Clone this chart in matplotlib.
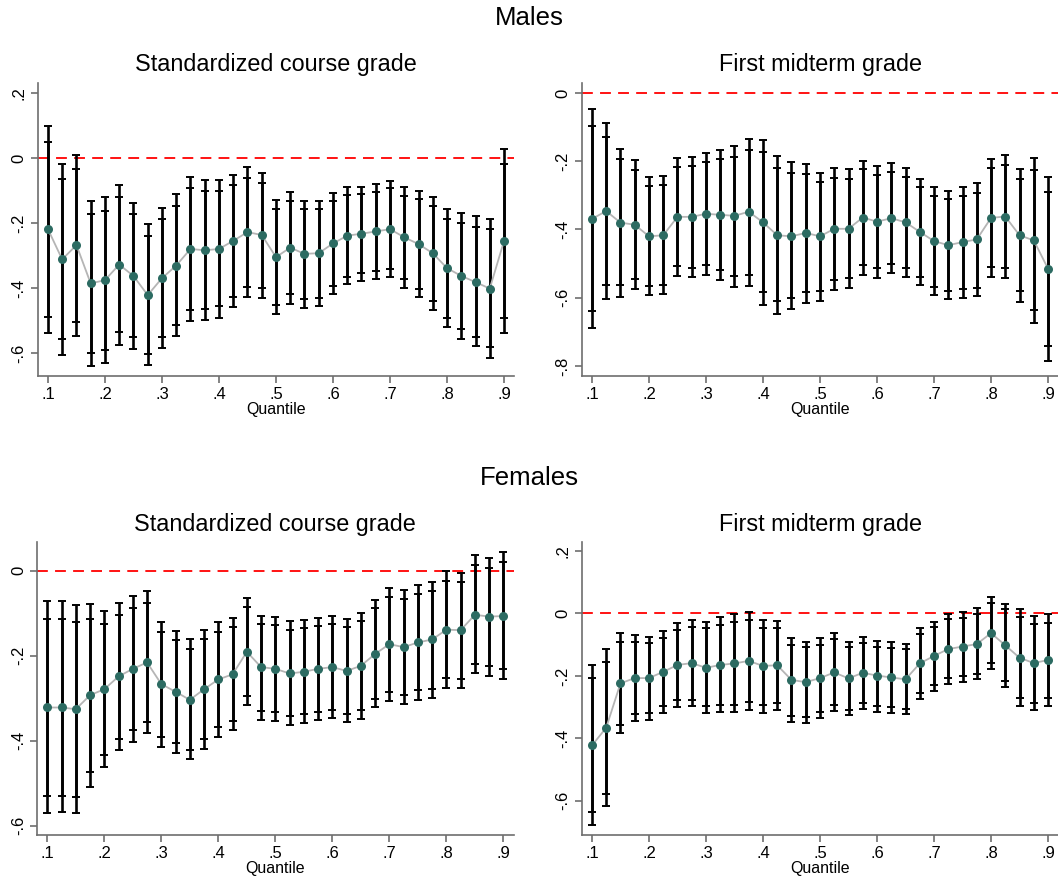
import matplotlib.pyplot as plt
import numpy as np

plt.rcParams['font.family'] = ['Liberation Sans', 'DejaVu Sans']

# quantiles .100, .125, ... .900
quantiles = [0.1 + 0.025 * i for i in range(33)]

# ---------------- Males: standardized course grade
m_course_est = [-0.218, -0.311, -0.267, -0.385, -0.375, -0.327, -0.362, -0.421, -0.369, -0.330, -0.279,
                -0.283, -0.279, -0.254, -0.227, -0.236, -0.304, -0.275, -0.294, -0.292, -0.262, -0.238,
                -0.232, -0.225, -0.218, -0.243, -0.264, -0.292, -0.338, -0.362, -0.381, -0.401, -0.254]
m_course_hi95 = [0.100, -0.017, 0.011, -0.131, -0.120, -0.082, -0.136, -0.203, -0.153, -0.111, -0.056,
                 -0.067, -0.067, -0.050, -0.028, -0.046, -0.128, -0.105, -0.131, -0.131, -0.106, -0.089,
                 -0.087, -0.079, -0.069, -0.089, -0.099, -0.119, -0.157, -0.167, -0.179, -0.187, 0.028]
m_course_hi90 = [0.051, -0.064, -0.032, -0.171, -0.161, -0.120, -0.172, -0.238, -0.188, -0.146, -0.091,
                 -0.102, -0.102, -0.083, -0.059, -0.075, -0.156, -0.131, -0.156, -0.156, -0.131, -0.113,
                 -0.110, -0.103, -0.092, -0.116, -0.125, -0.146, -0.186, -0.198, -0.211, -0.219, -0.017]
m_course_lo90 = [-0.487, -0.557, -0.503, -0.600, -0.590, -0.535, -0.549, -0.602, -0.549, -0.513, -0.467,
                 -0.464, -0.456, -0.426, -0.395, -0.398, -0.451, -0.419, -0.434, -0.429, -0.393, -0.364,
                 -0.354, -0.347, -0.342, -0.372, -0.401, -0.438, -0.490, -0.524, -0.549, -0.582, -0.492]
m_course_lo95 = [-0.538, -0.604, -0.547, -0.639, -0.631, -0.575, -0.586, -0.635, -0.584, -0.547, -0.501,
                 -0.497, -0.490, -0.459, -0.428, -0.429, -0.480, -0.447, -0.462, -0.455, -0.417, -0.388,
                 -0.377, -0.371, -0.365, -0.398, -0.428, -0.466, -0.520, -0.555, -0.579, -0.615, -0.538]

# ---------------- Males: first midterm grade
m_mid_est = [-0.369, -0.346, -0.380, -0.386, -0.420, -0.417, -0.363, -0.363, -0.354, -0.357, -0.360,
             -0.348, -0.379, -0.417, -0.420, -0.410, -0.420, -0.398, -0.398, -0.365, -0.377, -0.367,
             -0.379, -0.407, -0.434, -0.446, -0.437, -0.429, -0.366, -0.362, -0.417, -0.432, -0.515]
m_mid_hi95 = [-0.047, -0.088, -0.164, -0.197, -0.246, -0.243, -0.191, -0.188, -0.176, -0.166, -0.156,
              -0.135, -0.137, -0.185, -0.203, -0.207, -0.234, -0.220, -0.223, -0.199, -0.215, -0.206,
              -0.220, -0.251, -0.275, -0.287, -0.276, -0.265, -0.194, -0.183, -0.222, -0.191, -0.246]
m_mid_hi90 = [-0.098, -0.130, -0.195, -0.226, -0.273, -0.269, -0.218, -0.215, -0.203, -0.195, -0.187,
              -0.166, -0.172, -0.220, -0.236, -0.237, -0.261, -0.248, -0.251, -0.224, -0.240, -0.231,
              -0.246, -0.276, -0.301, -0.312, -0.301, -0.292, -0.221, -0.212, -0.253, -0.227, -0.290]
m_mid_lo90 = [-0.639, -0.564, -0.564, -0.546, -0.566, -0.564, -0.507, -0.512, -0.505, -0.519, -0.537,
              -0.532, -0.583, -0.609, -0.601, -0.582, -0.579, -0.548, -0.542, -0.505, -0.514, -0.502,
              -0.513, -0.539, -0.568, -0.580, -0.575, -0.570, -0.510, -0.513, -0.581, -0.635, -0.741]
m_mid_lo95 = [-0.688, -0.605, -0.597, -0.574, -0.592, -0.590, -0.535, -0.539, -0.534, -0.549, -0.569,
              -0.566, -0.622, -0.647, -0.634, -0.615, -0.608, -0.576, -0.570, -0.532, -0.541, -0.528,
              -0.539, -0.564, -0.593, -0.605, -0.601, -0.596, -0.539, -0.542, -0.613, -0.674, -0.784]

# ---------------- Females: standardized course grade
f_course_est = [-0.322, -0.322, -0.326, -0.293, -0.279, -0.249, -0.231, -0.216, -0.267, -0.285, -0.304,
                -0.279, -0.256, -0.244, -0.191, -0.227, -0.231, -0.242, -0.238, -0.231, -0.227, -0.236,
                -0.224, -0.196, -0.173, -0.180, -0.169, -0.162, -0.139, -0.140, -0.104, -0.108, -0.107]
f_course_hi95 = [-0.072, -0.072, -0.082, -0.078, -0.094, -0.076, -0.060, -0.049, -0.120, -0.141, -0.162,
                 -0.140, -0.122, -0.112, -0.064, -0.106, -0.110, -0.119, -0.116, -0.111, -0.107, -0.114,
                 -0.100, -0.069, -0.040, -0.045, -0.034, -0.026, -0.002, -0.005, 0.036, 0.029, 0.043]
f_course_hi90 = [-0.113, -0.113, -0.120, -0.113, -0.125, -0.104, -0.087, -0.076, -0.144, -0.163, -0.184,
                 -0.162, -0.144, -0.133, -0.085, -0.125, -0.129, -0.139, -0.136, -0.130, -0.125, -0.133,
                 -0.118, -0.089, -0.061, -0.067, -0.055, -0.047, -0.024, -0.027, 0.014, 0.007, 0.020]
f_course_lo90 = [-0.530, -0.530, -0.532, -0.473, -0.434, -0.395, -0.375, -0.356, -0.391, -0.406, -0.422,
                 -0.396, -0.369, -0.354, -0.296, -0.331, -0.333, -0.343, -0.337, -0.333, -0.328, -0.337,
                 -0.329, -0.303, -0.286, -0.293, -0.282, -0.278, -0.253, -0.254, -0.220, -0.225, -0.232]
f_course_lo95 = [-0.571, -0.569, -0.571, -0.508, -0.463, -0.422, -0.402, -0.383, -0.414, -0.430, -0.444,
                 -0.419, -0.391, -0.375, -0.317, -0.351, -0.353, -0.362, -0.358, -0.351, -0.347, -0.357,
                 -0.349, -0.322, -0.307, -0.314, -0.304, -0.299, -0.275, -0.275, -0.242, -0.247, -0.256]

# ---------------- Females: first midterm grade
f_mid_est = [-0.423, -0.366, -0.224, -0.207, -0.207, -0.187, -0.165, -0.159, -0.174, -0.165, -0.160,
             -0.152, -0.168, -0.166, -0.213, -0.220, -0.207, -0.189, -0.208, -0.190, -0.199, -0.205,
             -0.211, -0.160, -0.136, -0.114, -0.106, -0.098, -0.063, -0.102, -0.142, -0.159, -0.149]
f_mid_hi95 = [-0.165, -0.114, -0.063, -0.068, -0.074, -0.055, -0.032, -0.020, -0.027, -0.012, -0.001,
              0.005, -0.020, -0.023, -0.080, -0.091, -0.079, -0.063, -0.090, -0.075, -0.087, -0.092,
              -0.097, -0.046, -0.026, -0.001, 0.006, 0.016, 0.053, 0.031, 0.014, -0.008, -0.002]
f_mid_hi90 = [-0.206, -0.154, -0.090, -0.091, -0.095, -0.077, -0.054, -0.042, -0.048, -0.036, -0.026,
              -0.020, -0.045, -0.046, -0.102, -0.109, -0.101, -0.083, -0.108, -0.094, -0.107, -0.110,
              -0.115, -0.065, -0.044, -0.019, -0.013, -0.002, 0.035, 0.014, -0.010, -0.033, -0.029]
f_mid_lo90 = [-0.637, -0.577, -0.358, -0.322, -0.318, -0.297, -0.278, -0.276, -0.297, -0.292, -0.292,
              -0.284, -0.293, -0.286, -0.327, -0.331, -0.315, -0.293, -0.308, -0.287, -0.296, -0.300,
              -0.305, -0.255, -0.229, -0.208, -0.201, -0.193, -0.160, -0.216, -0.272, -0.286, -0.272]
f_mid_lo95 = [-0.677, -0.617, -0.384, -0.345, -0.341, -0.318, -0.300, -0.297, -0.320, -0.315, -0.316,
              -0.310, -0.318, -0.310, -0.347, -0.351, -0.336, -0.313, -0.326, -0.307, -0.315, -0.318,
              -0.322, -0.273, -0.248, -0.225, -0.219, -0.211, -0.178, -0.235, -0.295, -0.310, -0.295]

xticks = [0.1, 0.2, 0.3, 0.4, 0.5, 0.6, 0.7, 0.8, 0.9]
xticklabels = ['.1', '.2', '.3', '.4', '.5', '.6', '.7', '.8', '.9']

TEAL = '#2c6b62'
AXGRAY = '#6e6e6e'


def fmt(v):
    s = '%g' % round(v, 2)
    return s.replace('0.', '.')


def drawPanel(ax, title, title_y, est, lo95, lo90, hi90, hi95, yticks, ylim):
   x = np.array(quantiles)
   est = np.array(est)
   ax.axhline(0, color='red', lw=1.3, dashes=(6, 4), zorder=1)
   for lo, hi in [(lo95, hi95), (lo90, hi90)]:
      lo = np.array(lo)
      hi = np.array(hi)
      ax.errorbar(x, est, yerr=[est - lo, hi - est], fmt='none', ecolor='black',
                  elinewidth=1.9, capsize=3, capthick=1.4, zorder=2)
   ax.plot(x, est, color='#b5b5b5', lw=1.3, zorder=3)
   ax.plot(x, est, 'o', color=TEAL, markersize=6.5, markeredgewidth=0, zorder=4)

   ax.set_xlim(0.082, 0.918)
   ax.set_ylim(*ylim)
   ax.set_xticks(xticks)
   ax.set_xticklabels(xticklabels)
   ax.set_yticks(yticks)
   ax.set_yticklabels([fmt(v) for v in yticks], rotation=90, va='center')
   ax.set_xlabel('Quantile', fontsize=11.5, labelpad=0)
   # title placed in figure pixels (Stata puts it at the top of each subgraph)
   pos = ax.get_position()
   fig.text(pos.x0 + pos.width / 2, 1 - title_y / 884, title, ha='center', va='center',
            fontsize=16.8)
   for side in ['top', 'right']:
      ax.spines[side].set_visible(False)
   for side in ['left', 'bottom']:
      ax.spines[side].set_color(AXGRAY)
      ax.spines[side].set_linewidth(1.2)
   ax.tick_params(axis='both', colors=AXGRAY, labelcolor='black', labelsize=12,
                  length=5, width=1.2, pad=3)


fig = plt.figure(figsize=(10.58, 8.84), dpi=100)
w = 0.4505
h = 0.3314
ax1 = fig.add_axes([0.0356, 0.5747, w, h])
ax2 = fig.add_axes([0.5498, 0.5747, w, h])
ax3 = fig.add_axes([0.0350, 0.0554, w, h + 0.0004])
ax4 = fig.add_axes([0.5498, 0.0554, w, h + 0.0004])

drawPanel(ax1, 'Standardized course grade', 64, m_course_est, m_course_lo95, m_course_lo90,
          m_course_hi90, m_course_hi95, [-0.6, -0.4, -0.2, 0, 0.2], (-0.670, 0.232))
drawPanel(ax2, 'First midterm grade', 64, m_mid_est, m_mid_lo95, m_mid_lo90,
          m_mid_hi90, m_mid_hi95, [-0.8, -0.6, -0.4, -0.2, 0], (-0.829, 0.029))
drawPanel(ax3, 'Standardized course grade', 524, f_course_est, f_course_lo95, f_course_lo90,
          f_course_hi90, f_course_hi95, [-0.6, -0.4, -0.2, 0], (-0.622, 0.068))
drawPanel(ax4, 'First midterm grade', 524, f_mid_est, f_mid_lo95, f_mid_lo90,
          f_mid_hi90, f_mid_hi95, [-0.6, -0.4, -0.2, 0, 0.2], (-0.71, 0.23))

fig.text(0.5, 1 - 18 / 884, 'Males', ha='center', va='center', fontsize=18.5)
fig.text(0.5, 1 - 478 / 884, 'Females', ha='center', va='center', fontsize=18.5)

fig.savefig('out.png', dpi=100)
